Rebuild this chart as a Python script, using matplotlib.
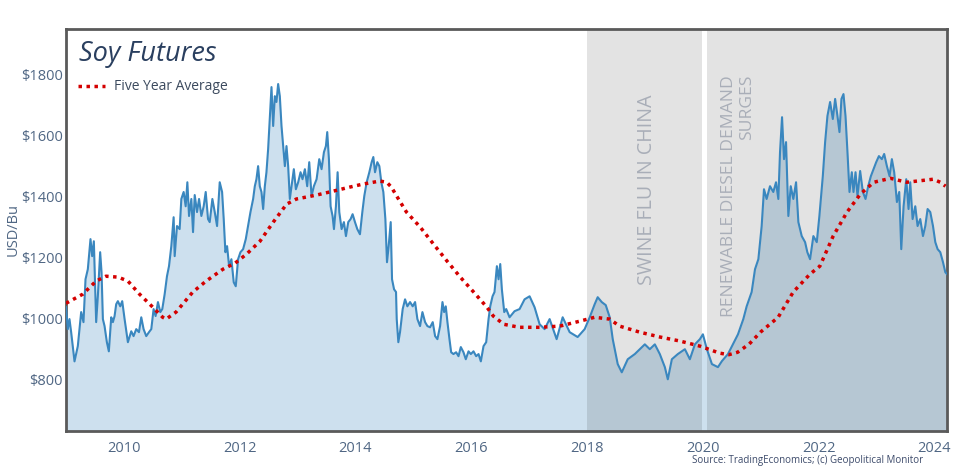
import matplotlib
matplotlib.use("Agg")
import matplotlib.pyplot as plt

# ---------------- data ----------------
price_years = [
    2009.000, 2009.031, 2009.060, 2009.089, 2009.147, 2009.204, 2009.262, 2009.302, 2009.337, 2009.377,
    2009.423, 2009.452, 2009.481, 2009.521, 2009.550, 2009.590, 2009.614, 2009.637, 2009.666, 2009.706,
    2009.740, 2009.781, 2009.810, 2009.839, 2009.867, 2009.896, 2009.937, 2009.971, 2010.012, 2010.069,
    2010.127, 2010.167, 2010.213, 2010.260, 2010.300, 2010.340, 2010.386, 2010.433, 2010.473, 2010.513,
    2010.548, 2010.588, 2010.629, 2010.663, 2010.704, 2010.744, 2010.779, 2010.819, 2010.859, 2010.877,
    2010.917, 2010.963, 2010.992, 2011.032, 2011.067, 2011.096, 2011.125, 2011.165, 2011.194, 2011.223,
    2011.263, 2011.298, 2011.338, 2011.378, 2011.413, 2011.453, 2011.482, 2011.528, 2011.569, 2011.609,
    2011.655, 2011.696, 2011.724, 2011.753, 2011.782, 2011.817, 2011.857, 2011.897, 2011.932, 2011.972,
    2012.013, 2012.059, 2012.105, 2012.145, 2012.186, 2012.232, 2012.261, 2012.289, 2012.318, 2012.347,
    2012.376, 2012.405, 2012.434, 2012.462, 2012.491, 2012.520, 2012.549, 2012.578, 2012.607, 2012.635,
    2012.664, 2012.693, 2012.722, 2012.751, 2012.780, 2012.808, 2012.837, 2012.866, 2012.895, 2012.935,
    2012.970, 2013.010, 2013.051, 2013.085, 2013.126, 2013.166, 2013.201, 2013.241, 2013.281, 2013.328,
    2013.374, 2013.414, 2013.455, 2013.489, 2013.512, 2013.541, 2013.570, 2013.604, 2013.628, 2013.662,
    2013.691, 2013.720, 2013.760, 2013.800, 2013.835, 2013.875, 2013.916, 2013.950, 2013.991, 2014.031,
    2014.077, 2014.118, 2014.152, 2014.193, 2014.239, 2014.279, 2014.308, 2014.337, 2014.377, 2014.412,
    2014.446, 2014.481, 2014.516, 2014.544, 2014.573, 2014.608, 2014.631, 2014.666, 2014.700, 2014.712,
    2014.740, 2014.769, 2014.815, 2014.856, 2014.896, 2014.942, 2014.988, 2015.029, 2015.069, 2015.115,
    2015.156, 2015.202, 2015.242, 2015.288, 2015.334, 2015.375, 2015.415, 2015.461, 2015.502, 2015.531,
    2015.559, 2015.588, 2015.623, 2015.652, 2015.692, 2015.738, 2015.779, 2015.819, 2015.865, 2015.905,
    2015.952, 2015.992, 2016.038, 2016.084, 2016.125, 2016.165, 2016.211, 2016.257, 2016.298, 2016.327,
    2016.367, 2016.401, 2016.442, 2016.471, 2016.500, 2016.528, 2016.569, 2016.603, 2016.661, 2016.747,
    2016.834, 2016.920, 2017.007, 2017.093, 2017.180, 2017.266, 2017.353, 2017.474, 2017.578, 2017.699,
    2017.837, 2017.958, 2018.045, 2018.131, 2018.183, 2018.253, 2018.322, 2018.391, 2018.443, 2018.529,
    2018.599, 2018.702, 2018.824, 2018.910, 2018.997, 2019.083, 2019.170, 2019.256, 2019.343, 2019.394,
    2019.464, 2019.567, 2019.689, 2019.775, 2019.862, 2019.948, 2020.000, 2020.069, 2020.156, 2020.260,
    2020.329, 2020.433, 2020.519, 2020.606, 2020.698, 2020.756, 2020.842, 2020.900, 2020.958, 2021.015,
    2021.055, 2021.101, 2021.159, 2021.216, 2021.263, 2021.303, 2021.332, 2021.367, 2021.401, 2021.436,
    2021.476, 2021.517, 2021.562, 2021.609, 2021.649, 2021.707, 2021.765, 2021.804, 2021.851, 2021.908,
    2021.967, 2022.012, 2022.071, 2022.111, 2022.151, 2022.197, 2022.244, 2022.284, 2022.324, 2022.359,
    2022.393, 2022.428, 2022.463, 2022.497, 2022.532, 2022.572, 2022.601, 2022.636, 2022.670, 2022.716,
    2022.763, 2022.809, 2022.855, 2022.901, 2022.947, 2022.993, 2023.040, 2023.091, 2023.131, 2023.178,
    2023.224, 2023.264, 2023.304, 2023.351, 2023.391, 2023.426, 2023.466, 2023.512, 2023.552, 2023.581,
    2023.622, 2023.668, 2023.708, 2023.754, 2023.801, 2023.841, 2023.881, 2023.927, 2023.974, 2024.014,
    2024.054, 2024.100, 2024.147, 2024.187, 2024.216,
]
price_values = [
    1036, 964, 997, 954, 858, 908, 1020, 987, 1128, 1161,
    1260, 1204, 1253, 987, 1072, 1217, 1151, 997, 974, 921,
    891, 1003, 987, 1007, 1046, 1056, 1039, 1056, 997, 921,
    957, 941, 964, 954, 1003, 964, 941, 954, 964, 1030,
    1007, 1053, 1020, 1030, 1079, 1138, 1171, 1237, 1332, 1204,
    1303, 1293, 1392, 1415, 1368, 1447, 1336, 1392, 1283, 1405,
    1349, 1392, 1336, 1368, 1415, 1326, 1316, 1392, 1349, 1303,
    1447, 1415, 1326, 1217, 1237, 1171, 1194, 1118, 1105, 1194,
    1217, 1227, 1260, 1303, 1349, 1392, 1434, 1457, 1500, 1434,
    1415, 1359, 1434, 1480, 1556, 1655, 1760, 1632, 1730, 1711,
    1770, 1730, 1632, 1566, 1500, 1566, 1500, 1392, 1434, 1490,
    1424, 1447, 1480, 1457, 1490, 1434, 1513, 1402, 1434, 1457,
    1523, 1490, 1546, 1566, 1612, 1523, 1368, 1336, 1293, 1368,
    1480, 1349, 1293, 1316, 1270, 1316, 1326, 1342, 1316, 1293,
    1276, 1349, 1402, 1447, 1480, 1513, 1530, 1480, 1513, 1500,
    1447, 1415, 1326, 1184, 1237, 1316, 1128, 1095, 1086, 997,
    921, 954, 1030, 1062, 1039, 1053, 1039, 1053, 997, 974,
    1020, 987, 974, 970, 987, 941, 931, 974, 1053, 1020,
    1039, 987, 931, 888, 882, 888, 875, 905, 888, 865,
    891, 882, 891, 875, 882, 858, 908, 921, 997, 1039,
    1072, 1086, 1171, 1128, 1178, 1095, 1020, 1030, 1003, 1023,
    1030, 1062, 1072, 1036, 980, 964, 997, 931, 1003, 954,
    938, 964, 1003, 1046, 1069, 1053, 1043, 1003, 931, 849,
    822, 865, 882, 898, 914, 898, 914, 882, 839, 799,
    865, 882, 898, 865, 914, 931, 947, 898, 849, 839,
    859, 882, 914, 947, 997, 1039, 1086, 1161, 1194, 1303,
    1424, 1392, 1434, 1415, 1447, 1392, 1546, 1661, 1523, 1579,
    1336, 1434, 1392, 1447, 1316, 1270, 1250, 1217, 1194, 1270,
    1250, 1336, 1467, 1579, 1665, 1711, 1655, 1721, 1665, 1612,
    1721, 1737, 1665, 1546, 1415, 1480, 1415, 1480, 1402, 1484,
    1415, 1392, 1434, 1467, 1490, 1513, 1533, 1523, 1540, 1500,
    1467, 1523, 1480, 1382, 1415, 1227, 1368, 1457, 1359, 1447,
    1326, 1368, 1303, 1326, 1270, 1303, 1359, 1349, 1303, 1250,
    1227, 1217, 1184, 1151, 1145,
]

avg_years = [
    2009.00, 2009.29, 2009.52, 2009.69, 2009.90, 2010.07, 2010.27, 2010.50, 2010.67, 2010.73,
    2010.90, 2011.19, 2011.42, 2011.71, 2011.92, 2012.12, 2012.35, 2012.58, 2012.81, 2012.98,
    2013.33, 2013.62, 2013.90, 2014.13, 2014.42, 2014.54, 2014.62, 2014.71, 2014.88, 2015.12,
    2015.35, 2015.58, 2015.81, 2016.04, 2016.27, 2016.38, 2016.56, 2016.83, 2017.18, 2017.53,
    2017.87, 2018.13, 2018.39, 2018.56, 2018.91, 2019.26, 2019.60, 2019.95, 2020.29, 2020.45,
    2020.60, 2020.80, 2021.00, 2021.30, 2021.56, 2021.85, 2022.02, 2022.25, 2022.49, 2022.72,
    2022.95, 2023.24, 2023.52, 2023.98, 2024.10, 2024.19,
]
avg_values = [
    1049, 1079, 1122, 1138, 1135, 1122, 1079, 1036, 1003, 997,
    1020, 1086, 1122, 1161, 1181, 1211, 1253, 1316, 1375, 1392,
    1405, 1418, 1431, 1441, 1451, 1447, 1431, 1402, 1349, 1299,
    1243, 1188, 1135, 1086, 1036, 1007, 980, 970, 970, 974,
    990, 1003, 997, 974, 954, 938, 925, 908, 885, 880,
    888, 915, 955, 1003, 1086, 1145, 1171, 1270, 1349, 1408,
    1447, 1460, 1447, 1457, 1447, 1434,
]

tick_years = [2010, 2012, 2014, 2016, 2018, 2020, 2022, 2024]
tick_labels = ["2010", "2012", "2014", "2016", "2018", "2020", "2022", "2024"]
ytick_values = [800, 1000, 1200, 1400, 1600, 1800]
ytick_labels = ["$800", "$1000", "$1200", "$1400", "$1600", "$1800"]

event_spans = [(2018.0, 2019.98), (2020.07, 2024.216)]
event_labels = ["SWINE FLU IN CHINA", "RENEWABLE DIESEL DEMAND\nSURGES"]

# ---------------- styling ----------------
plt.rcParams["font.family"] = ["Open Sans", "DejaVu Sans"]
TXT = "#506784"
DARK = "#2a3f5f"
LINE = "#3a87bf"
RED = "#d40000"
NOTE = "#a9aeb8"

fig = plt.figure(figsize=(9.70, 4.66), dpi=100)
ax = fig.add_axes([66 / 970, 1 - 431 / 466, (947 - 66) / 970, (431 - 29) / 466])

ymin, ymax = 629, 1951
ax.set_xlim(price_years[0], price_years[-1])
ax.set_ylim(ymin, ymax)

ax.fill_between(price_years, price_values, ymin, color=LINE, alpha=0.25, linewidth=0, zorder=1)
for (x0, x1) in event_spans:
    ax.axvspan(x0, x1, color="black", alpha=0.11, linewidth=0, zorder=2)
ax.plot(price_years, price_values, color=LINE, linewidth=1.5, zorder=3)
ax.plot(avg_years, avg_values, color=RED, linewidth=2.5, linestyle=(0, (1, 1.3)), zorder=4)

# annotations
ax.text(2019.03, 1734, event_labels[0], rotation=90, ha="center", va="top",
        fontsize=14.2, color=NOTE, zorder=5)
ax.text(2020.61, 1800, event_labels[1], rotation=90, ha="center", va="top",
        multialignment="right", fontsize=12.6, color=NOTE, zorder=5, linespacing=1.15)

# title + legend
ax.text(0.015, 0.938, "Soy Futures", transform=ax.transAxes, fontsize=19.5, style="italic",
        color=DARK, ha="left", va="center", zorder=6)
ax.plot([0.014, 0.044], [0.857, 0.857], transform=ax.transAxes, color=RED,
        linewidth=2.5, linestyle=(0, (1, 1.3)), zorder=6)
ax.text(0.054, 0.857, "Five Year Average", transform=ax.transAxes, fontsize=10,
        color="#3c4a5e", ha="left", va="center", zorder=6)

ax.set_xticks(tick_years)
ax.set_xticklabels(tick_labels)
ax.set_yticks(ytick_values)
ax.set_yticklabels(ytick_labels)
ax.tick_params(axis="both", length=0, labelsize=10.5, labelcolor=TXT)
ax.tick_params(axis="x", pad=7)
ax.tick_params(axis="y", pad=2.5)
ax.set_ylabel("USD/Bu", fontsize=10.5, color=TXT)
ax.yaxis.set_label_coords(-0.052, 0.5)

for s in ax.spines.values():
    s.set_color("#5a5a5a")
    s.set_linewidth(2)

fig.text(923 / 970, 1 - 461 / 466, "Source: TradingEconomics; (c) Geopolitical Monitor",
         fontsize=7, color="#3c4a6a", ha="right", va="center")

fig.savefig("out.png", dpi=100)
